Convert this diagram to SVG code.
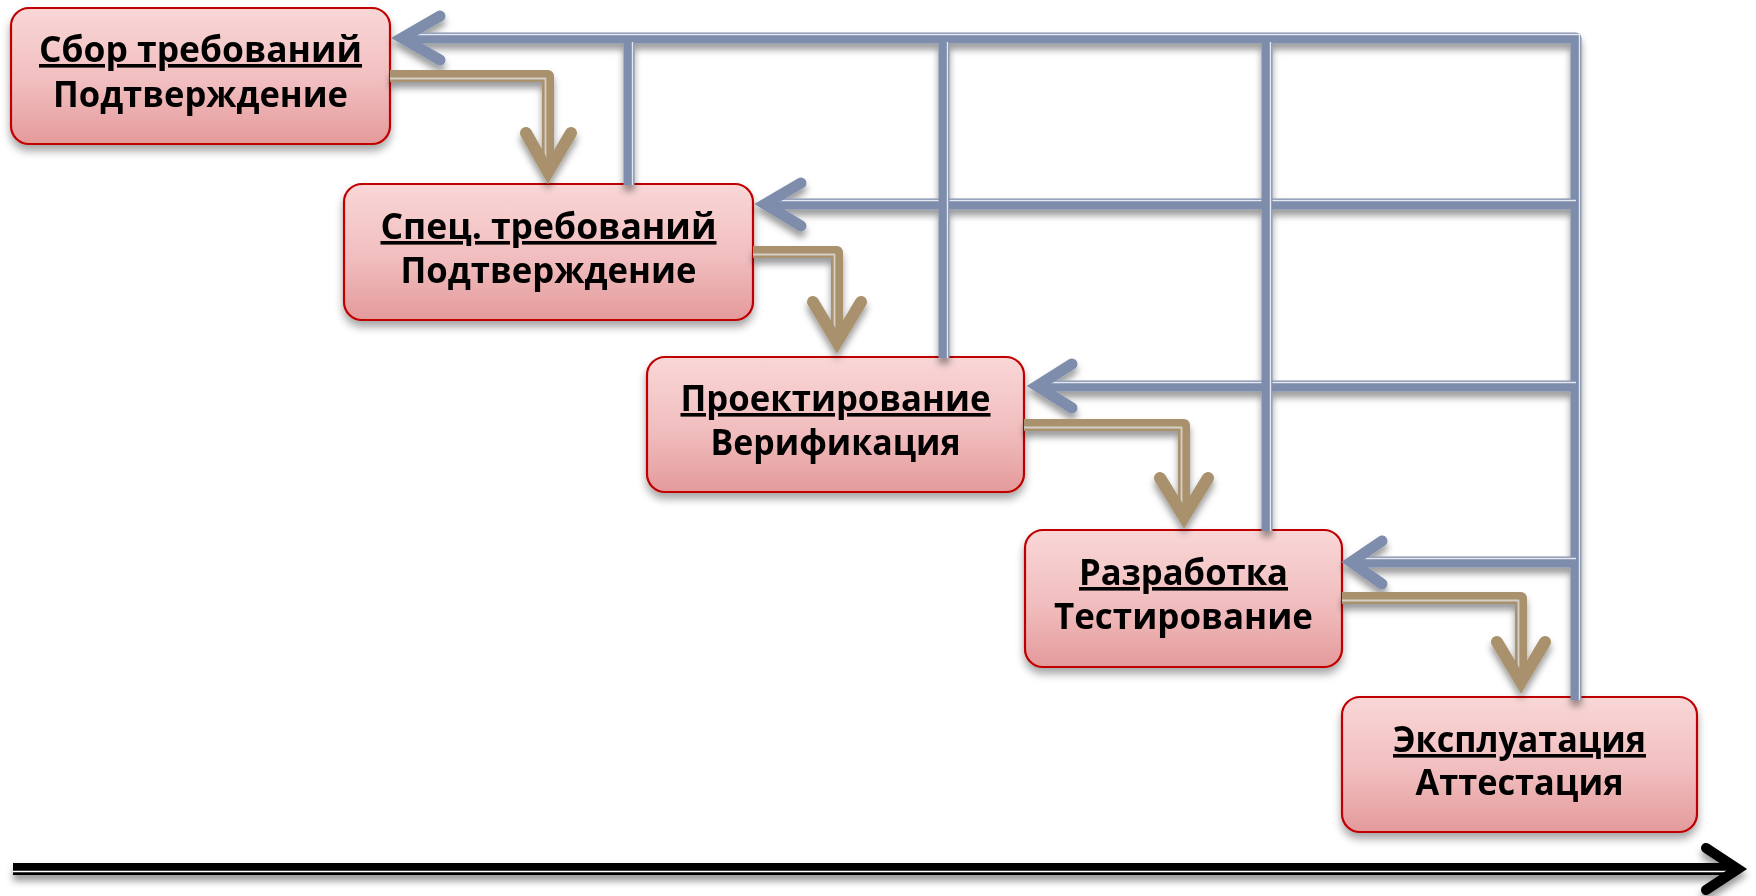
<svg xmlns="http://www.w3.org/2000/svg" width="1756" height="896" viewBox="0 0 1756 896">
<defs>
<linearGradient id="gNode" x1="0" y1="0" x2="0" y2="1">
<stop offset="0" stop-color="#F9D7D7"/>
<stop offset="0.55" stop-color="#F1BDBE"/>
<stop offset="1" stop-color="#E49A9B"/>
</linearGradient>
<filter id="shNode" x="-10%" y="-20%" width="120%" height="150%">
<feDropShadow dx="0" dy="6" stdDeviation="4" flood-color="#000" flood-opacity="0.35"/>
</filter>
<filter id="shLine" x="-5%" y="-20%" width="110%" height="140%">
<feDropShadow dx="0" dy="6" stdDeviation="3.5" flood-color="#000" flood-opacity="0.4"/>
</filter>
<style>
.node{fill:url(#gNode);stroke:#C00000;stroke-width:2.2}
.t{font-family:"Open Sans","Noto Sans","DejaVu Sans",sans-serif;font-size:36px;font-weight:700;fill:#000;text-anchor:middle}
.u{text-decoration:underline}
.blue{fill:none;stroke:#7E8DAB;stroke-width:11;stroke-linejoin:round}
.blueHi{fill:none;stroke:#E4E8F0;stroke-width:1.4;stroke-linejoin:round}
.tan{fill:none;stroke:#A8916C;stroke-width:12;stroke-linejoin:round}
.tanHi{fill:none;stroke:#D4D0C8;stroke-width:1.8;stroke-linejoin:round}
.chevB{fill:none;stroke:#7E8DAB;stroke-width:11;stroke-linecap:round;stroke-linejoin:miter;stroke-miterlimit:10}
.chevT{fill:none;stroke:#A8916C;stroke-width:12;stroke-linecap:round;stroke-linejoin:miter;stroke-miterlimit:10}
.time{fill:none;stroke:#000;stroke-width:12}
.timeHi{fill:none;stroke:#fff;stroke-width:1.6}
.chevK{fill:none;stroke:#000;stroke-width:10;stroke-linecap:round;stroke-linejoin:miter;stroke-miterlimit:10}
</style>
</defs>
<rect width="1756" height="896" fill="#fff"/>

<g id="node1" filter="url(#shNode)">
<rect class="node" x="11" y="8" width="379" height="136" rx="18"/>
<text class="t u" x="200.5" y="62" textLength="323" lengthAdjust="spacingAndGlyphs">Сбор требований</text>
<text class="t" x="200.5" y="107" textLength="295" lengthAdjust="spacingAndGlyphs">Подтверждение</text>
</g>
<g id="node2" filter="url(#shNode)">
<rect class="node" x="344" y="184" width="409" height="136" rx="18"/>
<text class="t u" x="548.5" y="239" textLength="336" lengthAdjust="spacingAndGlyphs">Спец. требований</text>
<text class="t" x="548.5" y="283" textLength="296" lengthAdjust="spacingAndGlyphs">Подтверждение</text>
</g>
<g id="node3" filter="url(#shNode)">
<rect class="node" x="647" y="357" width="377" height="135" rx="18"/>
<text class="t u" x="835.5" y="411" textLength="310" lengthAdjust="spacingAndGlyphs">Проектирование</text>
<text class="t" x="835.5" y="455" textLength="250" lengthAdjust="spacingAndGlyphs">Верификация</text>
</g>
<g id="node4" filter="url(#shNode)">
<rect class="node" x="1025" y="530" width="317" height="137" rx="18"/>
<text class="t u" x="1183.5" y="585" textLength="209" lengthAdjust="spacingAndGlyphs">Разработка</text>
<text class="t" x="1183.5" y="629" textLength="259" lengthAdjust="spacingAndGlyphs">Тестирование</text>
</g>
<g id="node5" filter="url(#shNode)">
<rect class="node" x="1342" y="697" width="355" height="135" rx="18"/>
<text class="t u" x="1519.5" y="752" textLength="253" lengthAdjust="spacingAndGlyphs">Эксплуатация</text>
<text class="t" x="1519.5" y="795" textLength="208" lengthAdjust="spacingAndGlyphs">Аттестация</text>
</g>

<g id="connectors" filter="url(#shLine)">
<!-- blue feedback lines -->
<path class="blue" d="M402,38 H1576 V700"/>
<path class="blueHi" d="M402,34.5 H1579.5 V700"/>
<path class="blue" d="M765,204 H1576"/>
<path class="blueHi" d="M765,200.5 H1576"/>
<path class="blue" d="M1037,386 H1576"/>
<path class="blueHi" d="M1037,382.5 H1576"/>
<path class="blue" d="M1351,562 H1576"/>
<path class="blueHi" d="M1351,558.5 H1576"/>
<path class="blue" d="M629,38 V185"/>
<path class="blueHi" d="M632.5,42 V185"/>
<path class="blue" d="M944,38 V358"/>
<path class="blueHi" d="M947.5,42 V358"/>
<path class="blue" d="M1267,38 V531"/>
<path class="blueHi" d="M1270.5,42 V531"/>
<path class="chevB" d="M440,16 L402,38 L440,60"/>
<path class="chevB" d="M801,183 L765,204 L801,226"/>
<path class="chevB" d="M1072,364 L1037,386 L1072,408"/>
<path class="chevB" d="M1382,541 L1351,562 L1382,584"/>
<!-- tan forward lines -->
<path class="tan" d="M390,76 H548 V172"/>
<path class="tanHi" d="M390,78.5 H545.5 V165"/>
<path class="tan" d="M753,252 H837 V342"/>
<path class="tanHi" d="M753,254.5 H834.5 V335"/>
<path class="tan" d="M1024,425 H1184 V517"/>
<path class="tanHi" d="M1024,427.5 H1181.5 V510"/>
<path class="tan" d="M1342,598 H1521 V682"/>
<path class="tanHi" d="M1342,600.5 H1518.5 V675"/>
<path class="chevT" d="M526,133 L548,172 L571,133"/>
<path class="chevT" d="M813,302 L837,342 L861,302"/>
<path class="chevT" d="M1160,478 L1184,517 L1208,478"/>
<path class="chevT" d="M1497,642 L1521,682 L1545,642"/>
<!-- time axis -->
<path class="time" d="M13,869 H1738"/>
<path class="timeHi" d="M13,871.5 H1730"/>
<path class="chevK" d="M1706,848 L1738,869 L1706,890"/>
</g>
</svg>
